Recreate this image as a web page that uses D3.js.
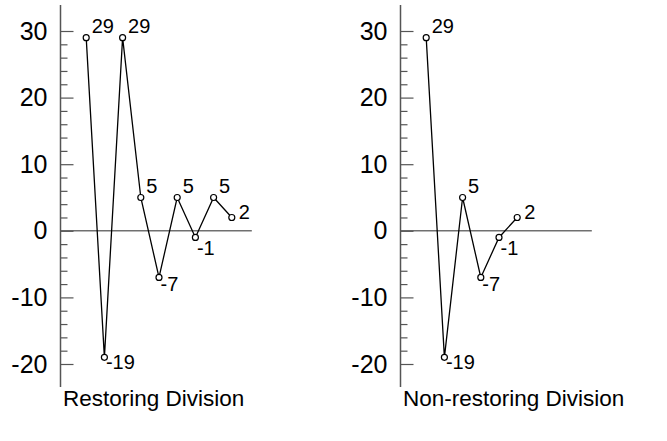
<!DOCTYPE html>
<html>
<head>
<meta charset="utf-8">
<script src="https://cdn.jsdelivr.net/npm/d3@7"></script>
<style>
  html, body { margin: 0; padding: 0; background: #fff; }
  svg { display: block; font-family: "Liberation Sans", Arial, Helvetica, sans-serif; }
</style>
</head>
<body>
<svg id="chart" width="667" height="441"></svg>
<script>
// ---- data ----
const titles = ["Restoring Division", "Non-restoring Division"];
const restoringValues = [29, -19, 29, 5, -7, 5, -1, 5, 2];
const nonRestoringValues = [29, -19, 5, -7, -1, 2];
const majorTicks = [-20, -10, 0, 10, 20, 30];
const minorTicks = d3.range(-20, 31, 2);

// ---- layout ----
const svg = d3.select("#chart");
const panelOffsets = [0, 340];
const series = [restoringValues, nonRestoringValues];

const y = d3.scaleLinear().domain([-20, 30]).range([364, 31]);
const axisTopVal = 33.9, axisBottomVal = -23.45;

function belowLabelDy(v) {
  return v <= -15 ? 11.5 : (v >= -3 ? 18 : 14);
}

series.forEach((vals, p) => {
  const off = panelOffsets[p];
  const x = d3.scaleLinear().domain([0, 10]).range([off + 68, off + 250]);
  const axisX = off + 60.5;
  const g = svg.append("g");

  // zero line
  g.append("line")
    .attr("x1", axisX).attr("x2", x(10.1))
    .attr("y1", y(0)).attr("y2", y(0))
    .attr("stroke", "#707070").attr("stroke-width", 1.5);

  // minor ticks
  const minor = g.append("g").attr("transform", `translate(${axisX},0)`)
    .call(d3.axisLeft(y).tickValues(minorTicks.filter(t => t % 10 !== 0)).tickSize(-7).tickFormat(""));
  minor.select(".domain").remove();
  minor.selectAll("line").attr("stroke", "#555").attr("stroke-width", 1.2);

  // major ticks
  const major = g.append("g").attr("transform", `translate(${axisX},0)`)
    .call(d3.axisLeft(y).tickValues(majorTicks).tickSize(-13).tickPadding(13).tickFormat(d => String(d)));
  major.select(".domain").remove();
  major.selectAll("line").attr("stroke", "#555").attr("stroke-width", 1.2);
  major.selectAll("text")
    .attr("font-size", 25).attr("fill", "#000")
    .attr("font-family", "'Liberation Sans', Arial, Helvetica, sans-serif");

  // axis line
  g.append("line")
    .attr("x1", axisX).attr("x2", axisX)
    .attr("y1", y(axisTopVal)).attr("y2", y(axisBottomVal))
    .attr("stroke", "#555").attr("stroke-width", 1.5);

  const pts = vals.map((v, i) => ({ i: i + 1, v, last: i === vals.length - 1 }));

  // line
  g.append("path")
    .datum(pts)
    .attr("fill", "none").attr("stroke", "#000").attr("stroke-width", 1.3)
    .attr("d", d3.line().x(d => x(d.i)).y(d => y(d.v)));

  // markers
  g.selectAll("circle").data(pts).join("circle")
    .attr("cx", d => x(d.i)).attr("cy", d => y(d.v)).attr("r", 3)
    .attr("fill", "#fff").attr("stroke", "#000").attr("stroke-width", 1.2);

  // value labels
  g.selectAll("text.val").data(pts).join("text")
    .attr("class", "val")
    .attr("font-size", 20).attr("fill", "#000")
    .attr("x", d => {
      if (d.last) return x(d.i) + 7;
      if (d.v < 0) return x(d.i) + 1.5;
      return x(d.i) + 5.5;
    })
    .attr("y", d => {
      if (d.last) return y(d.v) + 1.5;
      if (d.v < 0) return y(d.v) + belowLabelDy(d.v);
      return y(d.v) - 4.5;
    })
    .text(d => d.v);

  // title
  svg.append("text")
    .attr("x", axisX + 2.5).attr("y", 406)
    .attr("font-size", 22.5).attr("fill", "#000")
    .text(titles[p]);
});
</script>
</body>
</html>
